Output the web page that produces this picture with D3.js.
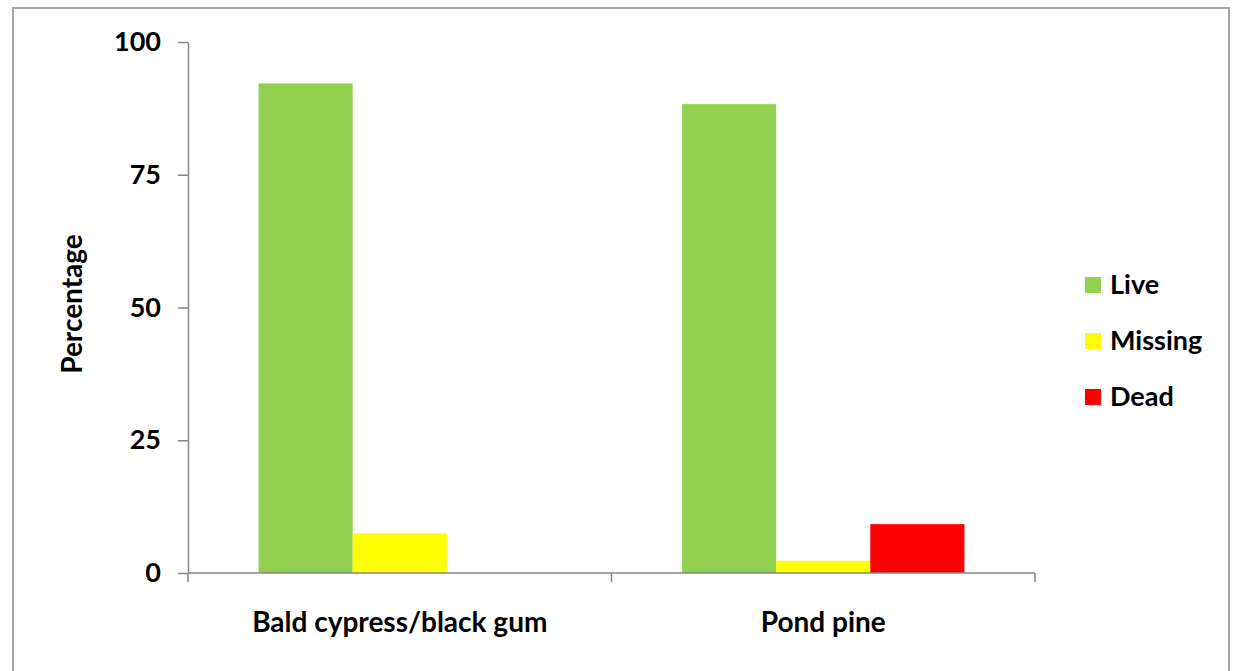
<!DOCTYPE html>
<html>
<head>
<meta charset="utf-8">
<script src="https://cdn.jsdelivr.net/npm/d3@7"></script>
<style>
  html, body { margin: 0; padding: 0; background: #fff; }
  svg { display: block; }
  text { font-family: Lato, "Open Sans", sans-serif; fill: #000; }
</style>
</head>
<body>
<svg id="chart" width="1235" height="671"></svg>
<script>
// Survival status of planted seedlings, by species group
const categories = ["Bald cypress/black gum", "Pond pine"];
const seriesNames = ["Live", "Missing", "Dead"];
const seriesColors = ["#92d050", "#ffff00", "#ff0000"];
const liveValues = [92.2, 88.3];
const missingValues = [7.5, 2.3];
const deadValues = [0, 9.2];
const yTicks = [0, 25, 50, 75, 100];
const yLabel = "Percentage";

const seriesValues = [liveValues, missingValues, deadValues];

const svg = d3.select("#chart");

// outer chart frame
svg.append("rect")
  .attr("x", 13).attr("y", 8)
  .attr("width", 1216).attr("height", 700)
  .attr("fill", "none")
  .attr("stroke", "#a6a6a6")
  .attr("stroke-width", 2);

const plot = { left: 188, right: 1035, top: 42, bottom: 573 };

const x0 = d3.scaleBand()
  .domain(categories)
  .range([plot.left, plot.right])
  .paddingInner(0)
  .paddingOuter(0);

// 150% gap between clusters
const x1 = d3.scaleBand()
  .domain(seriesNames)
  .range([0, x0.bandwidth()])
  .paddingInner(0)
  .paddingOuter(0.75);

const y = d3.scaleLinear()
  .domain([0, 100])
  .range([plot.bottom, plot.top]);

// bars
const groups = svg.append("g").selectAll("g")
  .data(categories)
  .join("g")
  .attr("transform", d => `translate(${x0(d)},0)`);

groups.selectAll("rect")
  .data((c, ci) => seriesNames.map((s, si) => ({ s, si, v: seriesValues[si][ci] })))
  .join("rect")
  .attr("x", d => x1(d.s))
  .attr("width", x1.bandwidth())
  .attr("y", d => y(d.v))
  .attr("height", d => y(0) - y(d.v))
  .attr("fill", d => seriesColors[d.si]);

// y axis
const yAxis = svg.append("g")
  .attr("transform", `translate(${plot.left},0)`)
  .call(d3.axisLeft(y).tickValues(yTicks).tickSize(10).tickPadding(17).tickSizeOuter(0));
yAxis.select(".domain").attr("stroke", "#868686").attr("stroke-width", 1.5);
yAxis.selectAll(".tick line").attr("stroke", "#868686").attr("stroke-width", 1.5);
yAxis.selectAll(".tick text")
  .attr("font-size", 27)
  .attr("font-weight", 700)
  .attr("font-family", "Lato, sans-serif")
  .attr("fill", "#000");

// x axis with tick marks at category boundaries
const xAxisG = svg.append("g")
  .attr("transform", `translate(0,${plot.bottom})`);
xAxisG.append("line")
  .attr("x1", plot.left).attr("x2", plot.right)
  .attr("stroke", "#868686").attr("stroke-width", 1.5);
const boundaries = categories.map(c => x0(c)).concat([x0(categories[categories.length - 1]) + x0.bandwidth()]);
xAxisG.selectAll("line.b")
  .data(boundaries)
  .join("line")
  .attr("class", "b")
  .attr("x1", d => d).attr("x2", d => d)
  .attr("y1", 0).attr("y2", 9)
  .attr("stroke", "#868686").attr("stroke-width", 1.5);
xAxisG.selectAll("text")
  .data(categories)
  .join("text")
  .attr("x", d => x0(d) + x0.bandwidth() / 2)
  .attr("y", 59)
  .attr("text-anchor", "middle")
  .attr("font-size", 28)
  .attr("font-weight", 700)
  .text(d => d);

// y axis title
svg.append("text")
  .attr("transform", "translate(82,304) rotate(-90)")
  .attr("text-anchor", "middle")
  .attr("font-size", 28)
  .attr("font-weight", 700)
  .text(yLabel);

// legend
const legend = svg.append("g").attr("transform", "translate(1085,277)");
const items = legend.selectAll("g")
  .data(seriesNames)
  .join("g")
  .attr("transform", (d, i) => `translate(0,${i * 56})`);
items.append("rect")
  .attr("width", 16).attr("height", 16)
  .attr("fill", (d, i) => seriesColors[i]);
items.append("text")
  .attr("x", 25).attr("y", 17)
  .attr("font-size", 27)
  .attr("font-weight", 700)
  .text(d => d);
</script>
</body>
</html>
